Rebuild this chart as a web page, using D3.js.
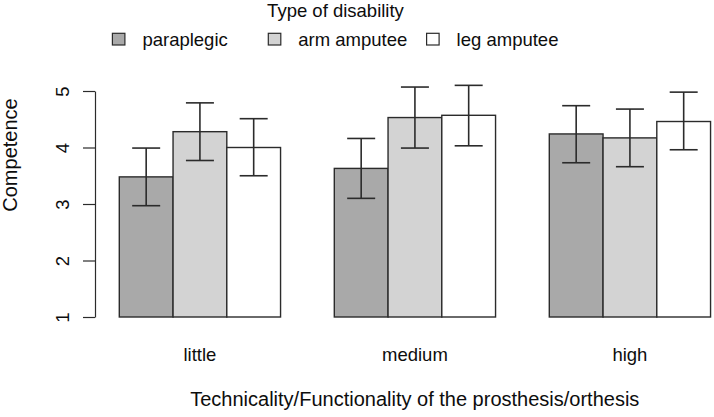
<!DOCTYPE html>
<html><head><meta charset="utf-8">
<script src="https://cdn.jsdelivr.net/npm/d3@7"></script>
<style>
html,body{margin:0;padding:0;background:#fff;}
svg{display:block;font-family:"Liberation Sans",Arial,Helvetica,sans-serif;}
</style></head>
<body>
<svg id="chart" width="714" height="417"></svg>
<script>
const categories = ["little", "medium", "high"];
const series = ["paraplegic", "arm amputee", "leg amputee"];
const means = {
  "paraplegic":  [3.48, 3.63, 4.24],
  "arm amputee": [4.28, 4.53, 4.17],
  "leg amputee": [4.00, 4.57, 4.46]
};
const lower = {
  "paraplegic":  [2.97, 3.10, 3.73],
  "arm amputee": [3.77, 3.99, 3.66],
  "leg amputee": [3.50, 4.03, 3.96]
};
const upper = {
  "paraplegic":  [3.99, 4.16, 4.74],
  "arm amputee": [4.79, 5.07, 4.68],
  "leg amputee": [4.51, 5.10, 4.98]
};
const yTicks = [1, 2, 3, 4, 5];
const fills = {"paraplegic": "#a9a9a9", "arm amputee": "#d3d3d3", "leg amputee": "#ffffff"};

const svg = d3.select("#chart");
const stroke = "#2b2b2b";
const txt = "#0d0d0d";
const fs = 18.5;

const y = d3.scaleLinear().domain([1, 5]).range([317, 91]);
const x0 = d3.scaleBand().domain(categories).range([65.55, 710.55]).paddingInner(0).paddingOuter(0);
const x1 = d3.scaleBand().domain(series).range([x0.bandwidth() / 4, x0.bandwidth()]);

const data = [];
categories.forEach((c, i) => series.forEach(s => data.push({c, s, v: means[s][i], lo: lower[s][i], hi: upper[s][i]})));

// bars
svg.append("g").selectAll("rect").data(data).join("rect")
  .attr("x", d => x0(d.c) + x1(d.s))
  .attr("y", d => y(d.v))
  .attr("width", x1.bandwidth())
  .attr("height", d => y(1) - y(d.v))
  .attr("fill", d => fills[d.s])
  .attr("stroke", stroke).attr("stroke-width", 1.4);

// error bars
const eb = svg.append("g").attr("stroke", stroke).attr("stroke-width", 1.6).attr("fill", "none");
const cx = d => x0(d.c) + x1(d.s) + x1.bandwidth() / 2;
eb.selectAll("line.v").data(data).join("line").attr("class", "v")
  .attr("x1", cx).attr("x2", cx).attr("y1", d => y(d.lo)).attr("y2", d => y(d.hi));
eb.selectAll("line.t").data(data).join("line").attr("class", "t")
  .attr("x1", d => cx(d) - 14).attr("x2", d => cx(d) + 14).attr("y1", d => y(d.hi)).attr("y2", d => y(d.hi));
eb.selectAll("line.b").data(data).join("line").attr("class", "b")
  .attr("x1", d => cx(d) - 14).attr("x2", d => cx(d) + 14).attr("y1", d => y(d.lo)).attr("y2", d => y(d.lo));

// y axis
const yAxis = svg.append("g").attr("transform", "translate(95,0)")
  .call(d3.axisLeft(y).tickValues(yTicks).tickSize(12).tickSizeOuter(0).tickFormat(d3.format("d")));
yAxis.select(".domain").attr("stroke", stroke).attr("stroke-width", 1.2);
yAxis.selectAll(".tick line").attr("stroke", stroke).attr("stroke-width", 1.2);
yAxis.selectAll(".tick text").remove();
yAxis.selectAll(".tick").append("text")
  .attr("transform", "translate(-26.5,0) rotate(-90)")
  .attr("text-anchor", "middle").attr("fill", txt)
  .attr("font-size", fs).text(d => d);

// y title
svg.append("text")
  .attr("text-anchor", "middle").attr("font-size", 20).attr("fill", txt)
  .attr("transform", `translate(17,155) rotate(-90)`).text("Competence");

// x category labels
svg.append("g").selectAll("text").data(categories).join("text")
  .attr("x", d => x0(d) + x0.bandwidth() * 5 / 8).attr("y", 360.5)
  .attr("text-anchor", "middle").attr("font-size", fs).attr("fill", txt).text(d => d);

// x title
svg.append("text").attr("x", 414.8).attr("y", 405.5).attr("text-anchor", "middle")
  .attr("font-size", 20).attr("fill", txt)
  .text("Technicality/Functionality of the prosthesis/orthesis");

// legend
svg.append("text").attr("x", 335.5).attr("y", 17)
  .attr("text-anchor", "middle").attr("font-size", fs).attr("fill", txt).text("Type of disability");
const legendX = [112.4, 268.3, 426.6];
const lg = svg.append("g").selectAll("g").data(series).join("g")
  .attr("transform", (d, i) => `translate(${legendX[i]},33.3)`);
lg.append("rect").attr("width", 12.5).attr("height", 11.7)
  .attr("fill", d => fills[d]).attr("stroke", stroke).attr("stroke-width", 1.2);
lg.append("text").attr("x", 30).attr("y", 12.2)
  .attr("font-size", fs).attr("fill", txt).text(d => d);
</script>
</body></html>
